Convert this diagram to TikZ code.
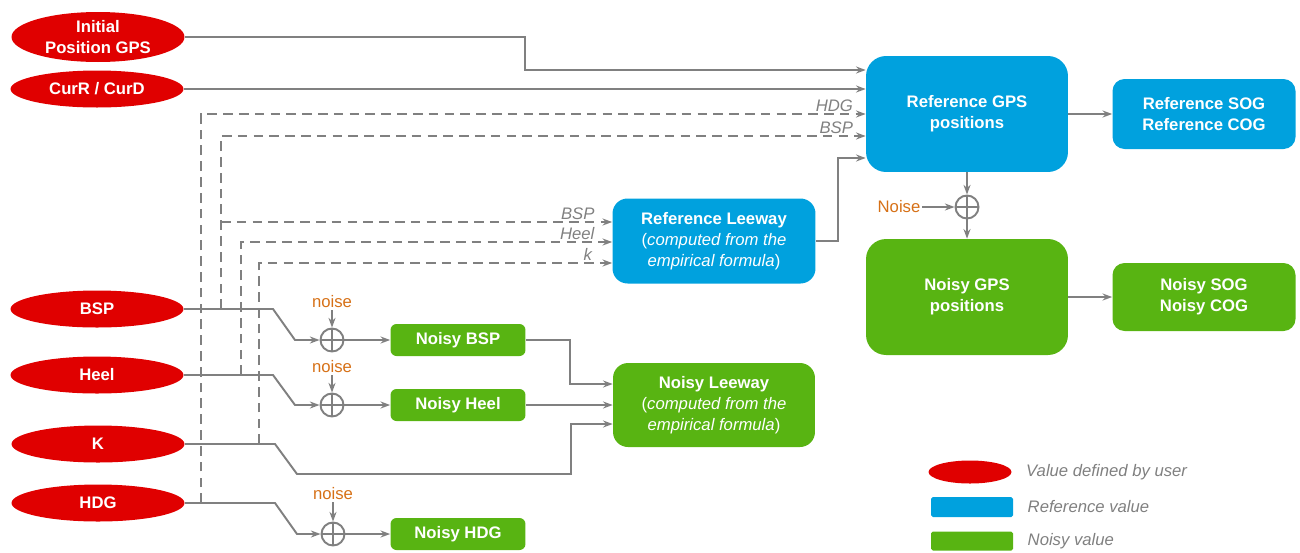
\documentclass[tikz,border=0pt]{standalone}
\usepackage{fontspec}
\setmainfont{Liberation Sans}
\usetikzlibrary{arrows.meta,shapes.geometric,positioning}

\definecolor{userred}{RGB}{224,0,0}
\definecolor{refblue}{RGB}{0,161,222}
\definecolor{noisygreen}{RGB}{88,180,18}
\definecolor{linegray}{RGB}{128,128,128}
\definecolor{noiseorange}{RGB}{214,112,22}
\newcommand{\diagfont}{\fontsize{9.5}{11.8}\selectfont}

\begin{document}
\begin{tikzpicture}[x=0.02cm, y=-0.02cm, >={Stealth[length=5.5pt,width=4pt]}, font=\diagfont,
    uservar/.style={ellipse, fill=userred, text=white, font=\diagfont\bfseries, inner sep=0pt,
        minimum width=3.46cm, minimum height=0.74cm, align=center},
    refbox/.style={fill=refblue, text=white, font=\diagfont\bfseries, align=center, inner sep=0pt},
    noisybox/.style={fill=noisygreen, text=white, font=\diagfont\bfseries, align=center, inner sep=0pt},
    sumnode/.style={circle, draw=linegray, line width=1.1pt, minimum size=0.46cm, inner sep=0pt,
        path picture={\draw[linegray, line width=1.1pt]
            (path picture bounding box.north) -- (path picture bounding box.south)
            (path picture bounding box.west) -- (path picture bounding box.east);}},
    wire/.style={draw=linegray, line width=1.1pt},
    dwire/.style={wire, dash pattern=on 5.5pt off 3.5pt},
    inlabel/.style={font=\diagfont\itshape, text=linegray, inner sep=1pt},
    noiselabel/.style={text=noiseorange, inner sep=1pt},
    legtext/.style={font=\diagfont\itshape, text=linegray, inner sep=0pt}]
    \useasboundingbox (0,0) rectangle (1300,552);

    % user values
    \node[uservar, minimum height=1.0cm] (initpos) at (98,37) {Initial\\Position GPS};
    \node[uservar] (curr) at (97,89) {CurR / CurD};
    \node[uservar] (bsp) at (97,309) {BSP};
    \node[uservar] (heel) at (97,375) {Heel};
    \node[uservar] (kval) at (98,444) {K};
    \node[uservar] (hdg) at (98,503) {HDG};

    % reference values
    \node[refbox, rounded corners=0.4cm, minimum width=4.04cm, minimum height=2.32cm] (refgps) at (967,114) {Reference GPS\\positions};
    \node[refbox, rounded corners=0.24cm, minimum width=3.66cm, minimum height=1.4cm] (refsog) at (1204,114) {Reference SOG\\Reference COG};
    \node[refbox, rounded corners=0.3cm, minimum width=4.06cm, minimum height=1.7cm] (reflw) at (714,241) {Reference Leeway\\\textmd{(\textit{computed from the}}\\\textmd{\textit{empirical formula})}};

    % noisy values
    \node[noisybox, rounded corners=0.4cm, minimum width=4.04cm, minimum height=2.32cm] (noisygps) at (967,297) {Noisy GPS\\positions};
    \node[noisybox, rounded corners=0.24cm, minimum width=3.66cm, minimum height=1.36cm] (noisysog) at (1204,297) {Noisy SOG\\Noisy COG};
    \node[noisybox, rounded corners=0.3cm, minimum width=4.04cm, minimum height=1.68cm] (noisylw) at (714,405) {Noisy Leeway\\\textmd{(\textit{computed from the}}\\\textmd{\textit{empirical formula})}};
    \node[noisybox, rounded corners=0.12cm, minimum width=2.7cm, minimum height=0.64cm] (nbsp) at (458,340) {Noisy BSP};
    \node[noisybox, rounded corners=0.12cm, minimum width=2.7cm, minimum height=0.64cm] (nheel) at (458,405) {Noisy Heel};
    \node[noisybox, rounded corners=0.12cm, minimum width=2.7cm, minimum height=0.64cm] (nhdg) at (458,534) {Noisy HDG};

    % noise sums
    \node[sumnode] (sbsp) at (332,340) {};
    \node[sumnode] (sheel) at (332,405) {};
    \node[sumnode] (shdg) at (333,534) {};
    \node[sumnode] (sgps) at (967,207) {};
    \node[noiselabel] (nsbsp) at (332,302) {noise};
    \node[noiselabel] (nsheel) at (332,367) {noise};
    \node[noiselabel] (nshdg) at (333,494) {noise};
    \node[noiselabel] (nsgps) at (899,207) {Noise};

    % branch points
    \coordinate (tapH) at (201,503);
    \coordinate (tapB) at (221,309);
    \coordinate (tapB2) at (221,222);
    \coordinate (tapE) at (241,375);
    \coordinate (tapK) at (259,444);

    % solid connections
    \draw[wire, ->] (initpos.east) -- (525,37) |- (refgps.west |- 0,70);
    \draw[wire, ->] (curr.east) -- (refgps.west |- curr.east);
    \draw[wire, ->] (bsp.east) -- (273,309) -- (295,340) -- (sbsp.west);
    \draw[wire, ->] (heel.east) -- (273,375) -- (295,405) -- (sheel.west);
    \draw[wire, ->] (kval.east) -- (275,444) -- (297,474) -- (571,474) |- (noisylw.west |- 0,424);
    \draw[wire, ->] (hdg.east) -- (275,503) -- (297,534) -- (shdg.west);
    \draw[wire, ->] (nsbsp) -- (sbsp);
    \draw[wire, ->] (nsheel) -- (sheel);
    \draw[wire, ->] (nshdg) -- (shdg);
    \draw[wire, ->] (sbsp) -- (nbsp);
    \draw[wire, ->] (sheel) -- (nheel);
    \draw[wire, ->] (shdg) -- (nhdg);
    \draw[wire, ->] (nbsp.east) -- (570,340) |- (noisylw.west |- 0,384);
    \draw[wire, ->] (nheel.east) -- (noisylw.west |- nheel.east);
    \draw[wire, ->] (reflw.east) -- (838,241) |- (refgps.west |- 0,158);
    \draw[wire, ->] (refgps) -- (refsog);
    \draw[wire, ->] (refgps) -- (sgps);
    \draw[wire, ->] (nsgps) -- (sgps);
    \draw[wire, ->] (sgps) -- (noisygps);
    \draw[wire, ->] (noisygps) -- (noisysog);

    % dashed connections
    \draw[dwire, ->] (tapH) -- (201,114) -- (refgps.west |- 0,114)
        node[inlabel, anchor=south east, xshift=-0.2cm] {HDG};
    \draw[dwire, ->] (tapB) -- (221,136) -- (refgps.west |- 0,136)
        node[inlabel, anchor=south east, xshift=-0.2cm] {BSP};
    \draw[dwire, ->] (tapB2) -- (reflw.west |- tapB2)
        node[inlabel, anchor=south east, xshift=-0.3cm] {BSP};
    \draw[dwire, ->] (tapE) -- (241,242) -- (reflw.west |- 0,242)
        node[inlabel, anchor=south east, xshift=-0.3cm] {Heel};
    \draw[dwire, ->] (tapK) -- (259,263) -- (reflw.west |- 0,263)
        node[inlabel, anchor=south east, xshift=-0.35cm] {k};

    % legend
    \node[uservar, minimum width=1.66cm, minimum height=0.46cm] (leguser) at (970,472) {};
    \node[fill=refblue, rounded corners=1pt, minimum width=1.64cm, minimum height=0.4cm, inner sep=0pt] (legref) at (972,507) {};
    \node[fill=noisygreen, rounded corners=1pt, minimum width=1.64cm, minimum height=0.38cm, inner sep=0pt] (legnoisy) at (972,541) {};
    \node[legtext, right=0.28cm of leguser] {Value defined by user};
    \node[legtext, right=0.28cm of legref] {Reference value};
    \node[legtext, right=0.28cm of legnoisy] {Noisy value};
\end{tikzpicture}
\end{document}
